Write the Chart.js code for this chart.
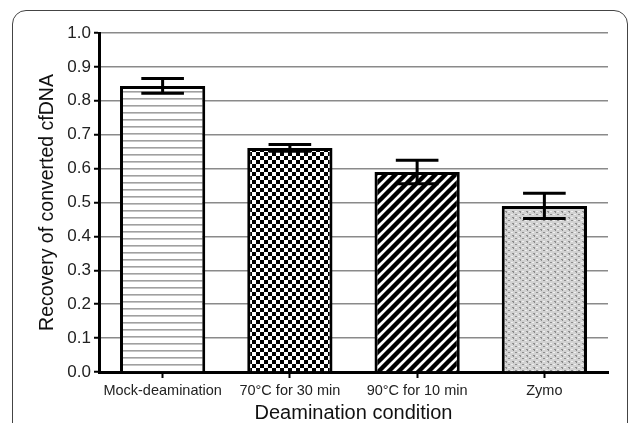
<!DOCTYPE html>
<html>
<head>
<meta charset="utf-8">
<script src="https://cdn.jsdelivr.net/npm/chart.js@4.4.1/dist/chart.umd.min.js"></script>
<style>
  html, body { margin: 0; padding: 0; background: #fff; overflow: hidden; }
  #wrap { position: relative; width: 630px; height: 423px; overflow: hidden; }
  #frame {
    position: absolute; left: 12px; top: 10px; width: 614px; height: 520px;
    border: 1.5px solid #444; border-radius: 14px;
  }
  #chart { position: absolute; left: 0; top: 0; }
</style>
</head>
<body>
<div id="wrap">
  <div id="frame"></div>
  <canvas id="chart" width="630" height="423"></canvas>
</div>
<script>
// values
const conditions = ['Mock-deamination', '70\u00B0C for 30 min', '90\u00B0C for 10 min', 'Zymo'];
const recovery = [0.844, 0.661, 0.590, 0.490];
const errors = [0.022, 0.010, 0.035, 0.037];

// fill patterns for each bar
function makeTile(w, h, draw) {
  const c = document.createElement('canvas');
  c.width = w;
  c.height = h;
  const g = c.getContext('2d');
  draw(g, w, h);
  return g.createPattern(c, 'repeat');
}

const linesPattern = makeTile(8, 7, (g, w, h) => {
  g.fillStyle = '#fff';
  g.fillRect(0, 0, w, h);
  g.fillStyle = '#a0a0a0';
  g.fillRect(0, 0, w, 1.6);
});

const checkPattern = makeTile(8, 8, (g, w, h) => {
  g.fillStyle = '#fff';
  g.fillRect(0, 0, w, h);
  g.fillStyle = '#000';
  g.fillRect(0, 0, 4, 4);
  g.fillRect(4, 4, 4, 4);
});

const stripePattern = makeTile(10, 10, (g, w, h) => {
  g.fillStyle = '#fff';
  g.fillRect(0, 0, w, h);
  g.strokeStyle = '#000';
  g.lineWidth = 4.4;
  g.beginPath();
  g.moveTo(-5, 5); g.lineTo(5, -5);
  g.moveTo(0, 10); g.lineTo(10, 0);
  g.moveTo(5, 15); g.lineTo(15, 5);
  g.stroke();
});

const speckPattern = makeTile(7, 6, (g, w, h) => {
  g.fillStyle = '#d2d2d2';
  g.fillRect(0, 0, w, h);
  g.fillStyle = '#8c8c8c';
  g.fillRect(1, 1, 2, 1);
  g.fillRect(2, 2, 1, 1);
  g.fillRect(4, 4, 2, 1);
  g.fillStyle = '#efefef';
  g.fillRect(4, 1, 2, 1);
  g.fillRect(0, 4, 2, 1);
});

// draws the error bars from the same y scale
const errorBars = {
  id: 'errorBars',
  afterDatasetsDraw(chart) {
    const ctx = chart.ctx;
    const y = chart.scales.y;
    const meta = chart.getDatasetMeta(0);
    ctx.save();
    ctx.strokeStyle = '#000';
    ctx.lineWidth = 3;
    meta.data.forEach((bar, i) => {
      const top = y.getPixelForValue(recovery[i] + errors[i]);
      const bottom = y.getPixelForValue(recovery[i] - errors[i]);
      const half = bar.width * 0.25;
      ctx.beginPath();
      ctx.moveTo(bar.x, top);
      ctx.lineTo(bar.x, bottom);
      ctx.moveTo(bar.x - half, top);
      ctx.lineTo(bar.x + half, top);
      ctx.moveTo(bar.x - half, bottom);
      ctx.lineTo(bar.x + half, bottom);
      ctx.stroke();
    });
    ctx.restore();
  }
};

const font = "'Liberation Sans', Arial, sans-serif";

new Chart(document.getElementById('chart'), {
  type: 'bar',
  data: {
    labels: conditions,
    datasets: [{
      data: recovery,
      backgroundColor: [linesPattern, checkPattern, stripePattern, speckPattern],
      borderColor: '#000',
      borderWidth: 3,
      borderSkipped: 'start',
      barPercentage: 0.67,
      categoryPercentage: 1
    }]
  },
  options: {
    responsive: false,
    animation: false,
    devicePixelRatio: 1,
    layout: { padding: { top: 33, right: 22, left: 0, bottom: 0 } },
    plugins: {
      legend: { display: false },
      tooltip: { enabled: false }
    },
    scales: {
      x: {
        afterFit: (scale) => { scale.height = 51; },
        grid: {
          drawOnChartArea: false,
          offset: false,
          tickLength: 6,
          tickColor: '#000',
          tickWidth: 2
        },
        border: { color: '#000', width: 3 },
        ticks: { color: '#222', font: { family: font, size: 14.5 }, padding: 4 },
        title: {
          display: true,
          text: 'Deamination condition',
          color: '#111',
          font: { family: font, size: 20, lineHeight: 1 },
          padding: { top: 0, bottom: 0 }
        }
      },
      y: {
        min: 0,
        max: 1,
        afterFit: (scale) => { scale.width = 99; },
        grid: {
          color: '#8a8a8a',
          lineWidth: 1.5,
          tickLength: 5,
          tickColor: '#000',
          tickWidth: 2
        },
        border: { color: '#000', width: 3 },
        ticks: {
          stepSize: 0.1,
          color: '#222',
          padding: 3,
          font: { family: font, size: 17 },
          callback: (v) => Number(v).toFixed(1)
        },
        title: {
          display: true,
          text: 'Recovery of converted cfDNA',
          color: '#111',
          font: { family: font, size: 19.5, lineHeight: 1 },
          padding: { top: 38, bottom: 0 }
        }
      }
    }
  },
  plugins: [errorBars]
});
</script>
</body>
</html>
